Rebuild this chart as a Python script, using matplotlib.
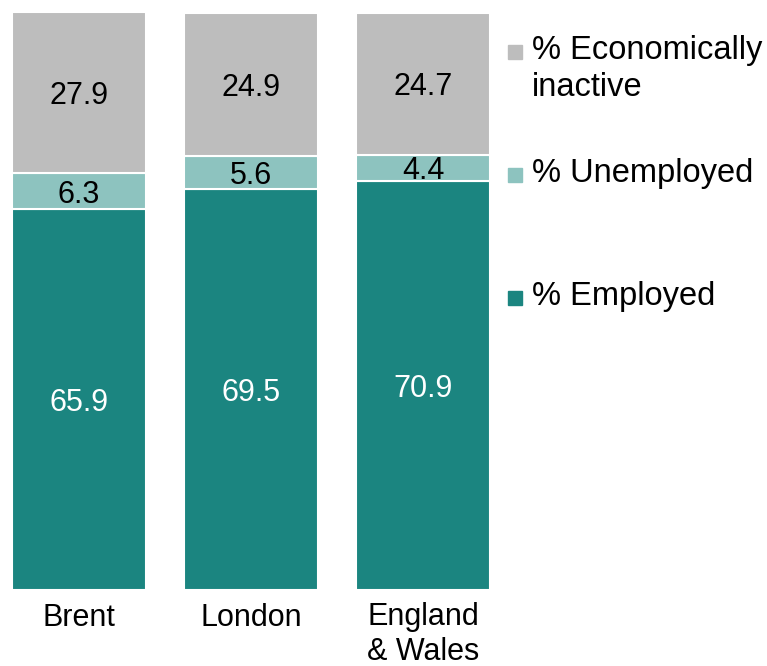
import numpy as np
import matplotlib.pyplot as plt
from matplotlib.patches import Rectangle

plt.rcParams['font.family'] = ['Liberation Sans', 'DejaVu Sans']

areas = ['Brent', 'London', 'England\n& Wales']
employed = [65.9, 69.5, 70.9]
unemployed = [6.3, 5.6, 4.4]
inactive = [27.9, 24.9, 24.7]

series = [
    ('% Employed', employed, '#1b8580', 'white'),
    ('% Unemployed', unemployed, '#8dc3bf', 'black'),
    ('% Economically\ninactive', inactive, '#bdbdbd', 'black'),
]

fig = plt.figure(figsize=(7.67, 6.66), dpi=100)
ax = fig.add_axes([12/767, 76/666, 478/767, 578/666])

x = np.arange(len(areas))
w = 0.777
bottom = np.zeros(len(areas))
for name, vals, col, tcol in series:
    vals = np.array(vals)
    bars = ax.bar(x, vals, w, bottom=bottom, color=col, edgecolor='white', linewidth=1.5)
    for xi, b, v in zip(x, bottom, vals):
        ax.text(xi, b + v / 2, f'{v:.1f}', ha='center', va='center_baseline', fontsize=22, color=tcol)
    bottom += vals

ax.set_xlim(-w/2, 2 + w/2)
ax.set_ylim(0, 100.1)
ax.set_xticks(x)
ax.set_xticklabels(areas, fontsize=22, linespacing=1.2)
ax.tick_params(axis='x', length=0, pad=9)
ax.set_yticks([])
for s in ax.spines.values():
    s.set_visible(False)

# legend drawn by hand, top to bottom
leg_y = {'% Economically\ninactive': 52, '% Unemployed': 175, '% Employed': 298}
for name, vals, col, tcol in series:
    yc = leg_y[name]
    fig.patches.append(Rectangle((508/767, (666 - yc - 7)/666), 14/767, 14/666,
                                 transform=fig.transFigure, color=col))
    fig.text(532/767, (666 - yc + 17)/666, name, fontsize=23.5, va='top', ha='left', linespacing=1.26)

fig.savefig('out.png', dpi=100)
